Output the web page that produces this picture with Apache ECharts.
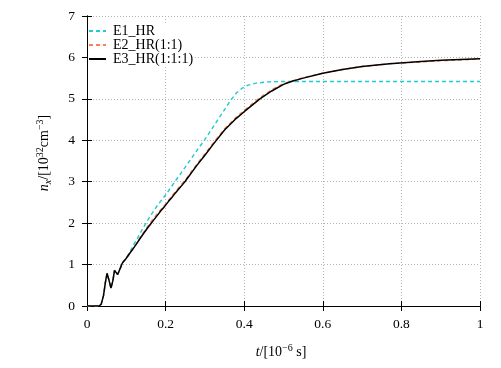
<!DOCTYPE html>
<html>
<head>
<meta charset="utf-8">
<script src="https://cdn.jsdelivr.net/npm/echarts@6/dist/echarts.min.js"></script>
<style>html,body{margin:0;padding:0;background:#fff}#c{width:501px;height:368px}</style>
</head>
<body>
<div id="c"></div>
<script>
// ---- data (t in 1e-6 s, n in 1e32 cm^-3) ----
var seriesNames = ['E1_HR', 'E2_HR(1:1)', 'E3_HR(1:1:1)'];
var xTicks = [0, 0.2, 0.4, 0.6, 0.8, 1];
var yTicks = [0, 1, 2, 3, 4, 5, 6, 7];

var e1T = [0, 0.03, 0.036, 0.042, 0.047, 0.051, 0.056, 0.061, 0.066, 0.070, 0.074, 0.078, 0.081, 0.085, 0.090, 0.095, 0.100, 0.105, 0.110, 0.115, 0.120, 0.125, 0.130, 0.135, 0.140, 0.150, 0.160, 0.170, 0.180, 0.190, 0.200, 0.225, 0.250, 0.275, 0.300, 0.325, 0.350, 0.365, 0.380, 0.395, 0.410, 0.430, 0.460, 0.500, 0.600, 0.800, 1.000];
var e1N = [0, 0, 0.04, 0.25, 0.58, 0.79, 0.62, 0.43, 0.62, 0.86, 0.86, 0.76, 0.74, 0.92, 1.04, 1.02, 1.16, 1.18, 1.32, 1.34, 1.50, 1.53, 1.66, 1.70, 1.84, 2.00, 2.16, 2.30, 2.44, 2.56, 2.68, 3.02, 3.35, 3.69, 4.02, 4.38, 4.74, 4.96, 5.14, 5.26, 5.33, 5.38, 5.41, 5.42, 5.42, 5.42, 5.42];

var e2T = [0, 0.03, 0.036, 0.042, 0.047, 0.051, 0.056, 0.061, 0.066, 0.070, 0.074, 0.078, 0.081, 0.085, 0.090, 0.100, 0.120, 0.140, 0.160, 0.180, 0.200, 0.225, 0.250, 0.280, 0.300, 0.320, 0.350, 0.380, 0.400, 0.440, 0.470, 0.500, 0.550, 0.600, 0.650, 0.700, 0.770, 0.850, 0.900, 1.000];
var e2N = [0, 0, 0.04, 0.25, 0.58, 0.79, 0.62, 0.43, 0.62, 0.86, 0.86, 0.76, 0.74, 0.92, 1.04, 1.15, 1.42, 1.72, 2.00, 2.24, 2.46, 2.76, 3.04, 3.43, 3.67, 3.92, 4.28, 4.56, 4.72, 5.03, 5.22, 5.37, 5.51, 5.62, 5.71, 5.78, 5.85, 5.89, 5.92, 5.96];

var e3T = [0, 0.03, 0.036, 0.042, 0.047, 0.051, 0.056, 0.061, 0.066, 0.070, 0.074, 0.078, 0.081, 0.085, 0.090, 0.094, 0.099, 0.103, 0.108, 0.112, 0.117, 0.121, 0.126, 0.130, 0.135, 0.139, 0.144, 0.148, 0.153, 0.157, 0.162, 0.166, 0.171, 0.175, 0.180, 0.184, 0.189, 0.193, 0.198, 0.202, 0.207, 0.211, 0.216, 0.220, 0.225, 0.229, 0.234, 0.238, 0.243, 0.250, 0.280, 0.300, 0.320, 0.350, 0.380, 0.400, 0.440, 0.470, 0.500, 0.520, 0.550, 0.600, 0.650, 0.700, 0.770, 0.850, 0.900, 1.000];
var e3N = [0, 0, 0.04, 0.25, 0.58, 0.79, 0.62, 0.43, 0.62, 0.86, 0.86, 0.76, 0.74, 0.92, 1.04, 1.01, 1.14, 1.12, 1.26, 1.24, 1.38, 1.36, 1.50, 1.49, 1.63, 1.61, 1.75, 1.74, 1.87, 1.85, 1.98, 1.97, 2.09, 2.08, 2.20, 2.19, 2.31, 2.30, 2.41, 2.41, 2.52, 2.51, 2.62, 2.62, 2.73, 2.72, 2.83, 2.83, 2.93, 3.01, 3.40, 3.64, 3.89, 4.25, 4.53, 4.69, 5.00, 5.19, 5.35, 5.42, 5.50, 5.62, 5.71, 5.78, 5.85, 5.90, 5.93, 5.97];

function pairs(t, n) { return t.map(function (v, i) { return [v, n[i]]; }); }

var serif = 'Liberation Serif';
var chart = echarts.init(document.getElementById('c'), null, { renderer: 'canvas' });

var baseAxisLine = { show: true, lineStyle: { color: '#000', width: 1 } };
var tick = { show: true, inside: true, length: 5, lineStyle: { color: '#000', width: 1 } };

chart.setOption({
  animation: false,
  backgroundColor: '#fff',
  grid: { left: 87, right: 21, top: 16, bottom: 62, containLabel: false },
  legend: {
    data: seriesNames,
    orient: 'vertical',
    left: 88,
    top: 23,
    itemWidth: 17,
    itemHeight: 14,
    itemGap: 0,
    padding: [1, 2, 1, 0],
    backgroundColor: '#fff',
    itemStyle: { opacity: 0 },
    textStyle: { fontFamily: serif, fontSize: 14, color: '#000', padding: [0, 0, 0, 2] }
  },
  xAxis: [{
    type: 'value', min: 0, max: 1, interval: 0.2, position: 'bottom',
    axisLine: baseAxisLine, axisTick: tick,
    axisLabel: { margin: 11, fontFamily: serif, fontSize: 13.5, color: '#000',
      formatter: function (v) { return xTicks.indexOf(+v.toFixed(1)) >= 0 ? String(+v.toFixed(1)) : ''; } },
    splitLine: { show: true, lineStyle: { color: '#b4b4b4', width: 1, type: [1, 2] } }
  }, {
    type: 'value', min: 0, max: 1, interval: 0.2, position: 'top',
    axisLine: baseAxisLine, axisTick: tick, axisLabel: { show: false }, splitLine: { show: false }
  }],
  yAxis: [{
    type: 'value', min: 0, max: 7, interval: 1, position: 'left',
    axisLine: baseAxisLine, axisTick: tick,
    axisLabel: { margin: 12, fontFamily: serif, fontSize: 13.5, color: '#000',
      formatter: function (v) { return yTicks.indexOf(v) >= 0 ? String(v) : ''; } },
    splitLine: { show: true, lineStyle: { color: '#b4b4b4', width: 1, type: [1, 2] } }
  }, {
    type: 'value', min: 0, max: 7, interval: 1, position: 'right',
    axisLine: baseAxisLine, axisTick: tick, axisLabel: { show: false }, splitLine: { show: false }
  }],
  series: [{
    name: seriesNames[0], type: 'line', data: pairs(e1T, e1N), showSymbol: false, symbol: 'none',
    lineStyle: { color: '#1fcad0', width: 1.4, type: [4, 3] }, itemStyle: { color: '#1fcad0' }, z: 2
  }, {
    name: seriesNames[1], type: 'line', data: pairs(e2T, e2N), showSymbol: false, symbol: 'none',
    lineStyle: { color: '#ff7f50', width: 1.4, type: [4, 3] }, itemStyle: { color: '#ff7f50' }, z: 3
  }, {
    name: seriesNames[2], type: 'line', data: pairs(e3T, e3N), showSymbol: false, symbol: 'none',
    lineStyle: { color: '#000', width: 1.5 }, itemStyle: { color: '#000' }, z: 4
  }],
  graphic: [{
    type: 'text', x: 44, y: 153, rotation: Math.PI / 2,
    style: {
      text: '{i|n}{sub|x}{r|/[10}{sup|32}{r|cm}{sup|−3}{r|]}',
      align: 'center', verticalAlign: 'middle', fill: '#000',
      rich: {
        i: { fontFamily: serif, fontStyle: 'italic', fontSize: 14, lineHeight: 18, verticalAlign: 'middle' },
        r: { fontFamily: serif, fontSize: 14, lineHeight: 18, verticalAlign: 'middle' },
        sup: { fontFamily: serif, fontSize: 10, lineHeight: 10, verticalAlign: 'top' },
        sub: { fontFamily: serif, fontStyle: 'italic', fontSize: 10, lineHeight: 10, verticalAlign: 'bottom' }
      }
    }
  }, {
    type: 'text', x: 281, y: 352,
    style: {
      text: '{i|t}{r|/[10}{sup|−6}{r| s]}',
      align: 'center', verticalAlign: 'middle', fill: '#000',
      rich: {
        i: { fontFamily: serif, fontStyle: 'italic', fontSize: 14, lineHeight: 18, verticalAlign: 'middle' },
        r: { fontFamily: serif, fontSize: 14, lineHeight: 18, verticalAlign: 'middle' },
        sup: { fontFamily: serif, fontSize: 10, lineHeight: 10, verticalAlign: 'top' }
      }
    }
  }]
});
</script>
</body>
</html>
